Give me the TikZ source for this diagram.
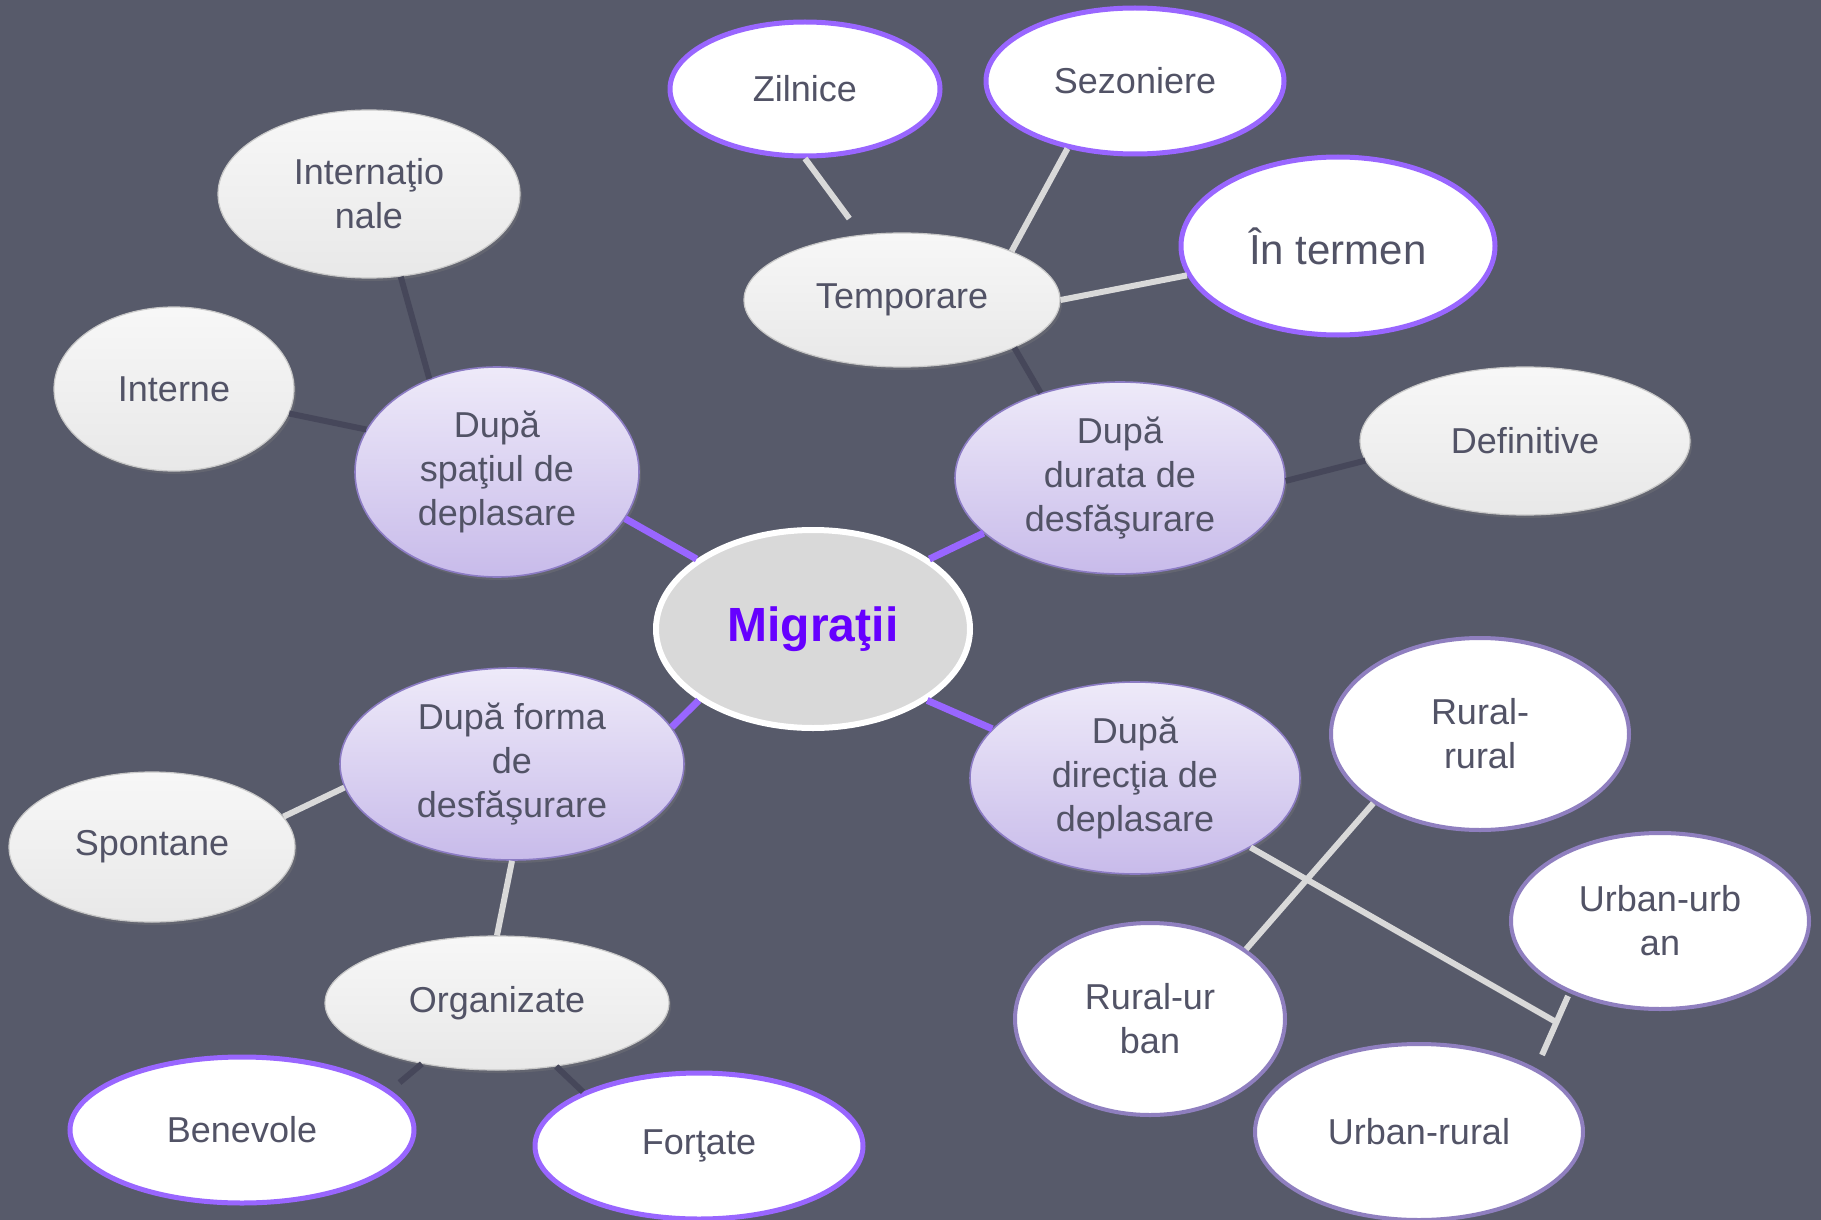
\documentclass[tikz,border=0pt]{standalone}
\usepackage{fontspec}
\setmainfont{Liberation Sans}
\usetikzlibrary{shapes.geometric,shadows}

\definecolor{slatebg}{HTML}{575A6A}
\definecolor{inkgray}{HTML}{525366}
\definecolor{violetline}{HTML}{9966FF}
\definecolor{violetrim}{HTML}{8C7CC4}
\definecolor{mutedrim}{HTML}{8F7FBF}
\definecolor{lilactop}{HTML}{EEEAF9}
\definecolor{lilacbot}{HTML}{C8BBEA}
\definecolor{greyrim}{HTML}{C8C8C8}
\definecolor{darklink}{HTML}{46475A}
\definecolor{lightlink}{HTML}{D9D9D9}
\definecolor{migtext}{HTML}{6600FF}

\tikzset{
    bubble/.style={ellipse, inner sep=0pt, align=center, text=inkgray,
        font=\fontsize{18}{22}\selectfont},
    greybubble/.style={bubble, draw=greyrim, line width=0.6pt,
        top color=white!97!black, bottom color=white!91!black,
        drop shadow={opacity=0.3, shadow xshift=1pt, shadow yshift=-1.5pt}},
    lilacbubble/.style={bubble, draw=violetrim, line width=0.8pt,
        top color=lilactop, bottom color=lilacbot,
        drop shadow={opacity=0.3, shadow xshift=1pt, shadow yshift=-1.5pt}},
    ringbubble/.style={bubble, draw=violetline, line width=2.5pt, fill=white},
    mutedbubble/.style={bubble, draw=mutedrim, line width=2pt, fill=white},
    mainlink/.style={violetline, line width=3.5pt},
    darkbar/.style={darklink, line width=3pt},
    lightbar/.style={lightlink, line width=3pt},
}

\begin{document}
\begin{tikzpicture}[x=0.5pt, y=-0.5pt]
    \fill[slatebg] (0,0) rectangle (1821,1220);
    \useasboundingbox (0,0) rectangle (1821,1220);

    \node[ellipse, inner sep=0pt, fill=white!85!black, draw=white, line width=3pt,
          minimum width=157pt, minimum height=99pt, text=migtext,
          font=\fontsize{24}{28}\selectfont\bfseries] (mig) at (813,629) {Migraţii};

    \node[lilacbubble, minimum width=142pt, minimum height=105pt] (spatiu) at (497,472) {După\\spaţiul de\\deplasare};
    \node[lilacbubble, minimum width=165pt, minimum height=96pt] (durata) at (1120,478) {După\\durata de\\desfăşurare};
    \node[lilacbubble, minimum width=172pt, minimum height=96pt] (forma) at (512,764) {După forma\\de\\desfăşurare};
    \node[lilacbubble, minimum width=165pt, minimum height=96pt] (directia) at (1135,778) {După\\direcţia de\\deplasare};

    \node[greybubble, minimum width=151pt, minimum height=84pt] (intl) at (369,194) {Internaţio\\nale};
    \node[greybubble, minimum width=120pt, minimum height=82pt] (interne) at (174,389) {Interne};
    \node[greybubble, minimum width=158pt, minimum height=67pt] (tmp) at (902,300) {Temporare};
    \node[greybubble, minimum width=165pt, minimum height=74pt] (def) at (1525,441) {Definitive};
    \node[greybubble, minimum width=143pt, minimum height=75pt] (spont) at (152,847) {Spontane};
    \node[greybubble, minimum width=172pt, minimum height=67pt] (org) at (497,1003) {Organizate};

    \node[ringbubble, minimum width=135pt, minimum height=67pt] (zil) at (805,89) {Zilnice};
    \node[ringbubble, minimum width=149pt, minimum height=73pt] (sez) at (1135,81) {Sezoniere};
    \node[ringbubble, minimum width=157pt, minimum height=89pt,
          font=\fontsize{21}{25}\selectfont] (term) at (1338,246) {În termen};
    \node[ringbubble, minimum width=172pt, minimum height=73pt] (ben) at (242,1130) {Benevole};
    \node[ringbubble, minimum width=164pt, minimum height=73pt] (fort) at (699,1146) {Forţate};

    \node[mutedbubble, minimum width=149pt, minimum height=96pt] (rr) at (1480,734) {Rural-\\rural};
    \node[mutedbubble, minimum width=149pt, minimum height=88pt] (uu) at (1660,921) {Urban-urb\\an};
    \node[mutedbubble, minimum width=135pt, minimum height=96pt] (ru) at (1150,1019) {Rural-ur\\ban};
    \node[mutedbubble, minimum width=164pt, minimum height=88pt] (ur) at (1419,1132) {Urban-rural};

    \coordinate (tj) at (1556,1022);
    \coordinate (tu) at (1568,996);
    \coordinate (td) at (1542,1055);

    \draw[mainlink] (spatiu.340) -- (mig.149);
    \draw[mainlink] (durata.202) -- (mig.31);
    \draw[mainlink] (forma.13) -- (mig.212);
    \draw[mainlink] (directia.161) -- (mig.328);

    \foreach \a/\b in {intl.291/spatiu.126, interne.348/spatiu.162, tmp.337/durata.133,
                       def.187/durata.359, org.313/fort.155} {
        \draw[darkbar] (\a) -- (\b);
    }
    \draw[darkbar, shorten >=6pt] (org.219) -- (ben.15);

    \foreach \a/\b in {sez.225/tmp.24, term.191/tmp.0, spont.13/forma.188,
                       forma.270/org.90, rr.213/ru.36, directia.329/tj, tu/td} {
        \draw[lightbar] (\a) -- (\b);
    }
    \draw[lightbar, shorten >=10pt] (zil.270) -- (tmp.122);
\end{tikzpicture}
\end{document}
